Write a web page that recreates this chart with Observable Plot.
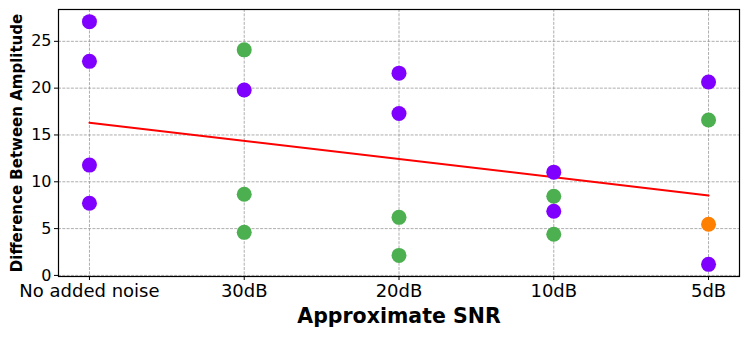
<!DOCTYPE html>
<html>
<head>
<meta charset="utf-8">
<script src="https://cdn.jsdelivr.net/npm/d3@7"></script>
<script src="https://cdn.jsdelivr.net/npm/@observablehq/plot@0.6"></script>
<style>
  html, body { margin: 0; padding: 0; background: #fff; }
  svg { font-family: "DejaVu Sans", sans-serif; }
</style>
</head>
<body>
<div id="chart"></div>
<script>
const categories = ["No added noise", "30dB", "20dB", "10dB", "5dB"];
const pointCategory = [
  "No added noise", "No added noise", "No added noise", "No added noise",
  "30dB", "30dB", "30dB", "30dB",
  "20dB", "20dB", "20dB", "20dB",
  "10dB", "10dB", "10dB", "10dB",
  "5dB", "5dB", "5dB", "5dB"
];
const pointValue = [
  27.1, 22.86, 11.78, 7.71,
  24.09, 19.8, 8.67, 4.6,
  21.6, 17.3, 6.2, 2.14,
  11.03, 8.46, 6.85, 4.39,
  20.66, 16.6, 5.46, 1.18
];
const pointGroup = [
  "A", "A", "A", "A",
  "B", "A", "B", "B",
  "A", "A", "B", "B",
  "A", "B", "A", "B",
  "A", "B", "C", "A"
];
const groups = ["A", "B", "C"];
const yTicks = [0, 5, 10, 15, 20, 25];

const data = pointValue.map((v, i) => ({
  x: categories.indexOf(pointCategory[i]),
  y: v,
  g: pointGroup[i]
}));

const chart = Plot.plot({
  width: 748,
  height: 337,
  marginLeft: 58,
  marginRight: 9,
  marginTop: 9,
  marginBottom: 61,
  style: { fontFamily: "DejaVu Sans, sans-serif", background: "white" },
  x: { domain: [-0.2, 4.2], label: null },
  y: { domain: [-0.116, 28.4], label: null },
  color: { domain: groups, range: ["#8000ff", "#4caf50", "#ff8000"] },
  marks: [
    Plot.gridX(d3.range(categories.length), { stroke: "#999", strokeOpacity: 1, strokeWidth: 0.8, strokeDasharray: "3,1.3" }),
    Plot.gridY(yTicks, { stroke: "#999", strokeOpacity: 1, strokeWidth: 0.8, strokeDasharray: "3,1.3" }),
    Plot.axisX(d3.range(categories.length), {
      tickFormat: i => categories[i], tickSize: 4, tickPadding: 4,
      fontSize: 18, fill: "black", label: null
    }),
    Plot.axisY(yTicks, {
      tickSize: 4, tickPadding: 3, fontSize: 16, fill: "black", label: null
    }),
    Plot.linearRegressionY(data, { x: "x", y: "y", stroke: "red", strokeWidth: 2, ci: 0 }),
    Plot.dot(data, { x: "x", y: "y", fill: "g", r: 7.5, stroke: null }),
    Plot.frame({ stroke: "black", strokeWidth: 1.2 }),
    Plot.text(["Difference Between Amplitude"], {
      frameAnchor: "left", dx: -41.5, rotate: -90, text: d => d,
      textAnchor: "middle", lineAnchor: "middle",
      fontSize: 15, fontWeight: "bold", fill: "black"
    }),
    Plot.text(["Approximate SNR"], {
      frameAnchor: "bottom", dy: 40, text: d => d,
      textAnchor: "middle", lineAnchor: "middle",
      fontSize: 20.5, fontWeight: "bold", fill: "black"
    })
  ]
});
document.getElementById("chart").appendChild(chart);
</script>
</body>
</html>
